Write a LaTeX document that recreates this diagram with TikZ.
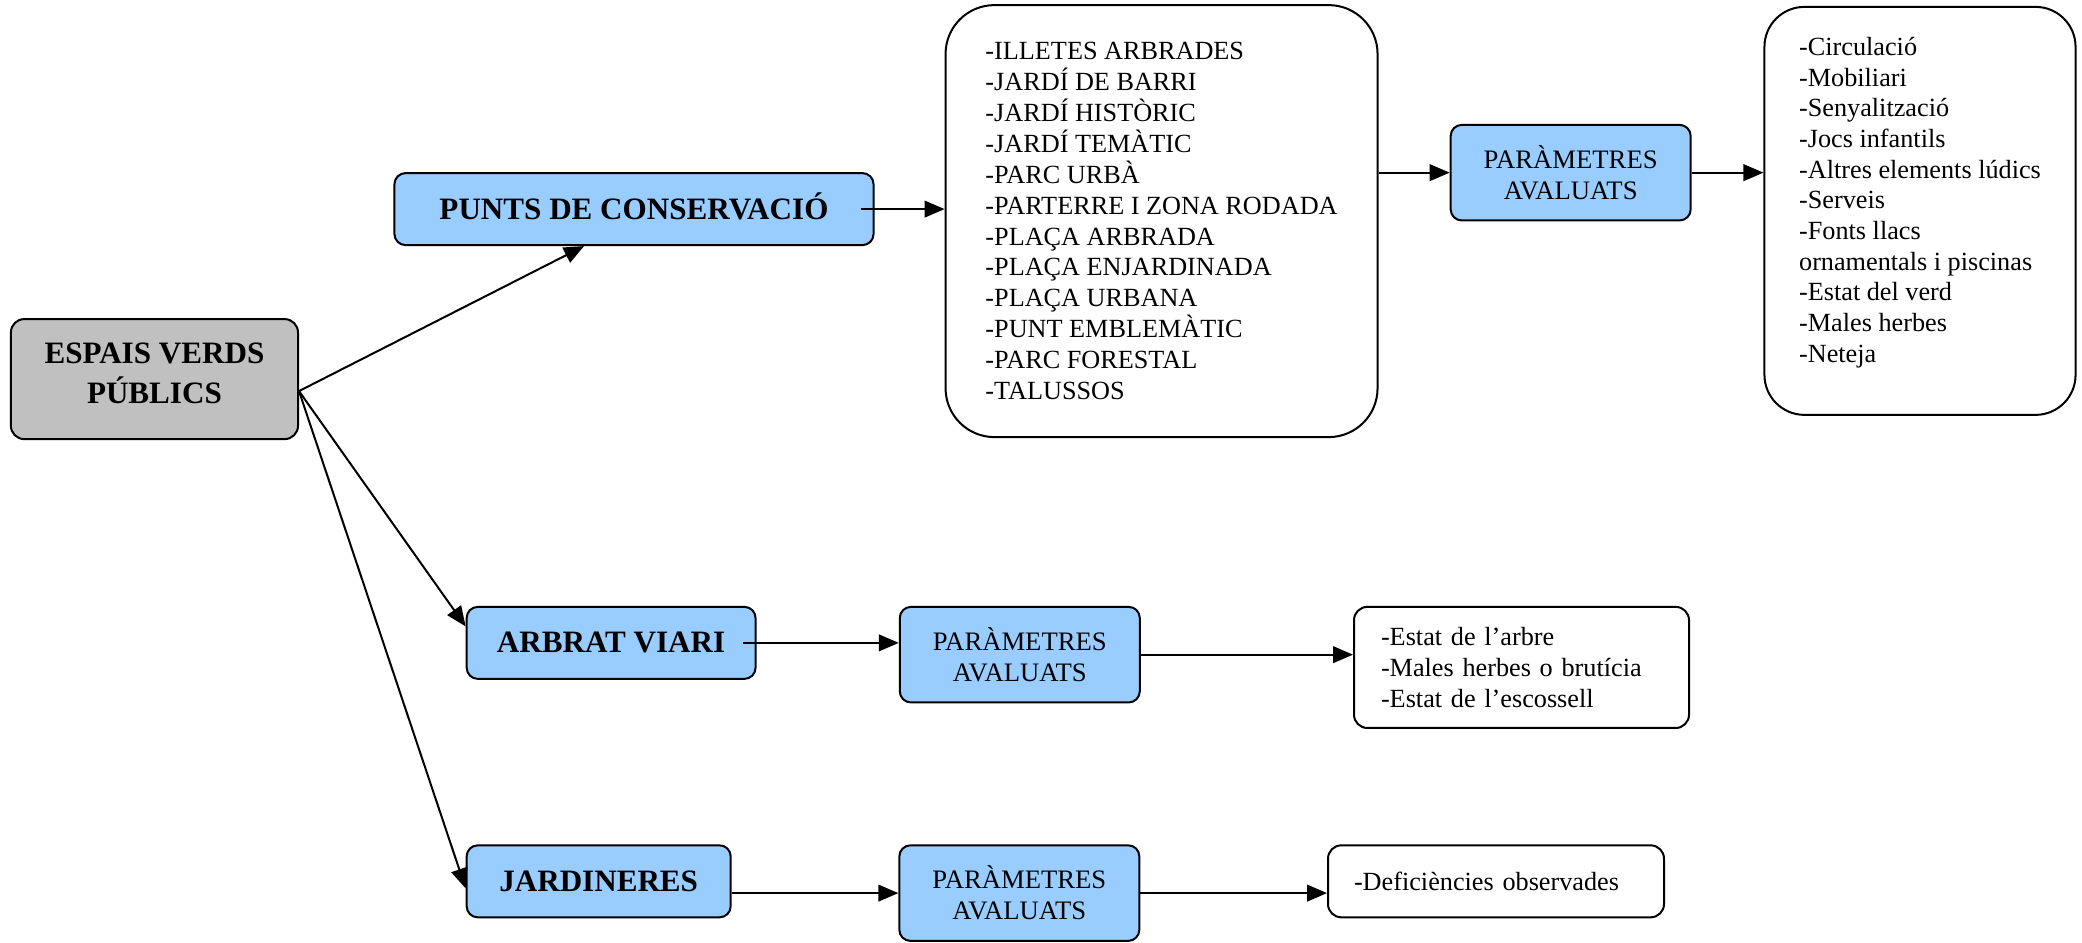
\documentclass[tikz,border=0pt]{standalone}
\usepackage{fontspec}
\setmainfont{Liberation Serif}
\usetikzlibrary{arrows.meta, positioning}
\usepackage{xcolor}
\definecolor{blaucel}{HTML}{99CCFF}
\definecolor{gris}{HTML}{C0C0C0}

\begin{document}
\begin{tikzpicture}[
  node distance=32pt and 33pt,
  rootbox/.style={rectangle, draw, rounded corners=6pt, fill=gris, line width=0.9pt, align=center, font=\fontsize{14}{18}\selectfont\bfseries},
  category/.style={rectangle, draw, rounded corners=5pt, fill=blaucel, line width=0.9pt, minimum height=32.4pt, align=center, font=\fontsize{14}{17}\selectfont\bfseries},
  parambox/.style={rectangle, draw, rounded corners=5pt, fill=blaucel, line width=0.9pt, minimum width=108pt, minimum height=43pt, align=center, font=\fontsize{12}{14}\selectfont},
  listbox/.style={rectangle, draw, fill=white, line width=0.9pt, align=left, font=\fontsize{11.8}{13.9}\selectfont},
  flow/.style={line width=0.9pt, -{Triangle[length=9pt, width=7.5pt]}}
]

\useasboundingbox (0,0) rectangle (936.9pt,-424.35pt);

% Nodes
\node[rootbox, minimum width=129.2pt, minimum height=54pt] (espais) at (69.5pt,-170.6pt) {ESPAIS VERDS\\PÚBLICS\rule[-5pt]{0pt}{5pt}};
\node[category, minimum width=215.6pt, above right=32.4pt and 42.5pt of espais] (punts) {PUNTS DE CONSERVACIÓ\rule[-3pt]{0pt}{3pt}};
\node[listbox, rounded corners=22pt, minimum width=194.4pt, minimum height=194.4pt, right=31.5pt of punts, yshift=-5.4pt] (llista) {-ILLETES ARBRADES\\-JARDÍ DE BARRI\\-JARDÍ HISTÒRIC\\-JARDÍ TEMÀTIC\\-PARC URBÀ\\-PARTERRE I ZONA RODADA\\-PLAÇA ARBRADA\\-PLAÇA ENJARDINADA\\-PLAÇA URBANA\\-PUNT EMBLEMÀTIC\\-PARC FORESTAL\\-TALUSSOS};
\node[parambox, right=32pt of llista, yshift=21.8pt] (param1) {PARÀMETRES\\AVALUATS};
\node[listbox, rounded corners=18pt, minimum width=140pt, minimum height=183.6pt, font=\fontsize{11.8}{13.8}\selectfont, right=32.3pt of param1, yshift=-17.2pt] (params) {-Circulació\\-Mobiliari\\-Senyalització\\-Jocs infantils\\-Altres elements lúdics\\-Serveis\\-Fonts llacs\\ornamentals i piscinas\\-Estat del verd\\-Males herbes\\-Neteja\rule[-10pt]{0pt}{10pt}};

\node[category, minimum width=130pt, below right=74.6pt and 75pt of espais] (arbrat) {ARBRAT VIARI};
\node[parambox, right=64pt of arbrat.north east, anchor=north west] (param2) {PARÀMETRES\\AVALUATS};
\node[listbox, rounded corners=6pt, text width=126.45pt, inner xsep=12.15pt, minimum height=54.5pt, right=95.5pt of param2.north east, anchor=north west] (estat) {-Estat de l’arbre\\-Males herbes o brutícia\\-Estat de l’escossell};

\node[category, minimum width=118.8pt, below=74pt of arbrat.south west, anchor=north west] (jard) {JARDINERES};
\node[parambox, right=75pt of jard.north east, anchor=north west] (param3) {PARÀMETRES\\AVALUATS};
\node[listbox, rounded corners=6pt, text width=127.8pt, inner xsep=11.7pt, minimum height=32.4pt, right=84pt of param3.north east, anchor=north west] (defic) {-Deficiències observades};

% Connections
\coordinate (fork) at ([yshift=-5.4pt]espais.east);
\draw[flow] (fork) -- ([xshift=-22.5pt]punts.south);
\draw[flow] (fork) -- ([yshift=7.4pt]arbrat.west);
\draw[flow] (fork) -- ([yshift=-3.2pt]jard.west);
\draw[flow] ([xshift=-6.3pt]punts.east) -- (llista.west |- punts.east);
\draw[flow] (llista.east |- param1.west) -- (param1.west);
\draw[flow] (param1.east) -- (params.west |- param1.east);
\draw[flow] ([xshift=-5.9pt]arbrat.east) -- (param2.west |- arbrat.east);
\draw[flow] (param2.east) -- (estat.west |- param2.east);
\draw[flow] (jard.east |- param3.west) -- (param3.west);
\draw[flow] (param3.east) -- (defic.west |- param3.east);

\end{tikzpicture}
\end{document}
